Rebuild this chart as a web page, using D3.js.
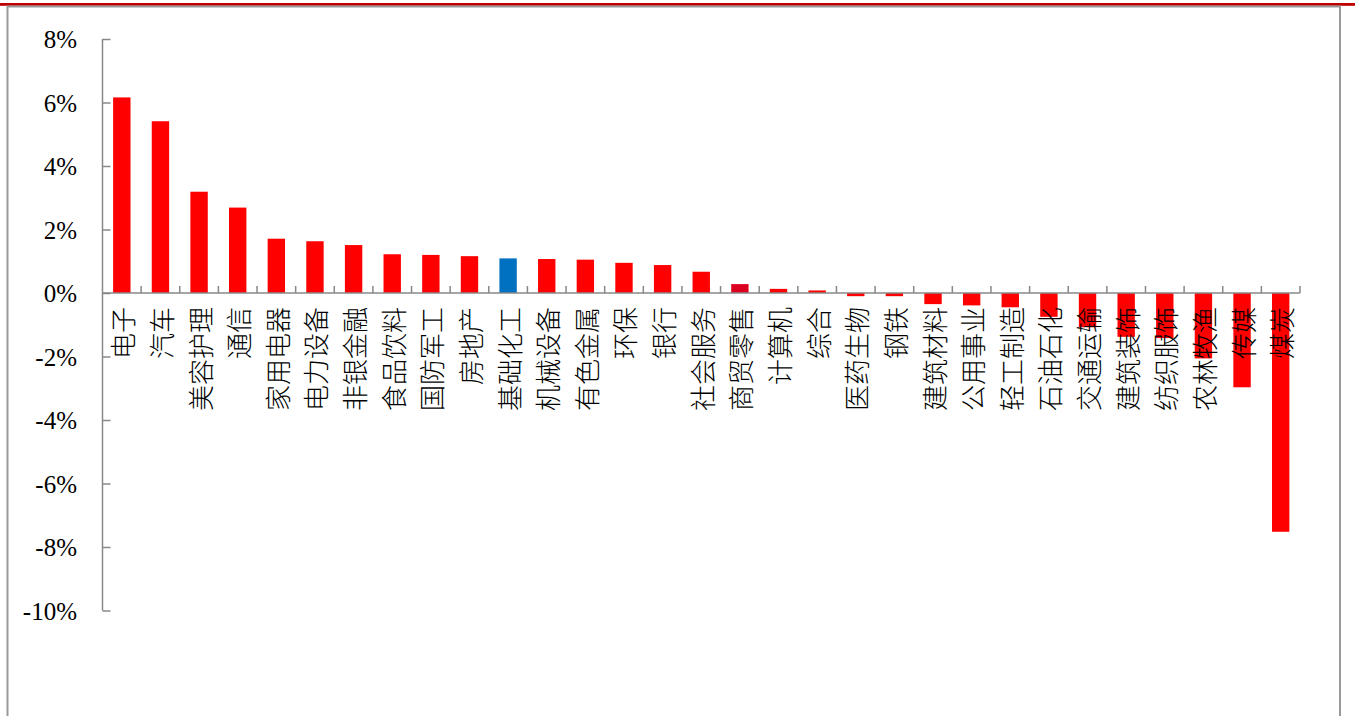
<!DOCTYPE html>
<html>
<head>
<meta charset="utf-8">
<script src="https://cdn.jsdelivr.net/npm/d3@7/dist/d3.min.js"></script>
<style>
  html, body { margin: 0; padding: 0; background: #fff; }
  svg { display: block; }
</style>
</head>
<body>
<svg id="chart" width="1355" height="716"></svg>
<script>
// Industry names (SW level-1), in ranked order
const categories = ["电子", "汽车", "美容护理", "通信", "家用电器", "电力设备", "非银金融", "食品饮料",
  "国防军工", "房地产", "基础化工", "机械设备", "有色金属", "环保", "银行", "社会服务", "商贸零售",
  "计算机", "综合", "医药生物", "钢铁", "建筑材料", "公用事业", "轻工制造", "石油石化", "交通运输",
  "建筑装饰", "纺织服饰", "农林牧渔", "传媒", "煤炭"];

// Weekly change, percent
const values = [6.16, 5.41, 3.19, 2.69, 1.71, 1.63, 1.51, 1.22,
  1.20, 1.16, 1.09, 1.07, 1.05, 0.95, 0.88, 0.67, 0.28,
  0.13, 0.08, -0.10, -0.10, -0.35, -0.39, -0.45, -0.75, -1.08,
  -1.38, -1.42, -2.06, -2.97, -7.52];

// Highlighted industries
const highlight = { "基础化工": "#0070c0", "商贸零售": "#dc0020" };

const yTicks = [8, 6, 4, 2, 0, -2, -4, -6, -8, -10];

const svg = d3.select("#chart");

// Page frame: red rule on top, grey box below it
svg.append("rect").attr("x", 0).attr("y", 3).attr("width", 1355).attr("height", 2.8).attr("fill", "#c00000");
svg.append("path")
  .attr("d", "M7.5,716 V6.5 H1340 V716")
  .attr("fill", "none").attr("stroke", "#999").attr("stroke-width", 2);

const plot = { left: 102.5, right: 1300, top: 39, bottom: 610.5 };

const x = d3.scaleBand().domain(categories).range([plot.left, plot.right]).paddingInner(0.55).paddingOuter(0.275);
const y = d3.scaleLinear().domain([-10, 8]).range([plot.bottom, plot.top]);

// Bars
svg.append("g").selectAll("rect").data(categories).join("rect")
  .attr("x", d => x(d))
  .attr("width", x.bandwidth())
  .attr("y", (d, i) => y(Math.max(0, values[i])))
  .attr("height", (d, i) => Math.abs(y(values[i]) - y(0)))
  .attr("fill", d => highlight[d] || "#ff0000");

// Y axis with inward ticks
const yAxis = d3.axisLeft(y).tickValues(yTicks).tickSize(-8).tickPadding(0)
  .tickFormat(d => d + "%");
const gy = svg.append("g").attr("transform", `translate(${plot.left},0)`).call(yAxis)
  .attr("font-family", "'Liberation Serif', 'Times New Roman', serif")
  .attr("font-size", 25);
gy.select(".domain").attr("stroke", "#888").attr("stroke-width", 1.5)
  .attr("d", `M0,${plot.top}V${plot.bottom}`);
gy.selectAll(".tick line").attr("stroke", "#888").attr("stroke-width", 1.5);
gy.selectAll(".tick text")
  .attr("x", -25.5)
  .attr("dy", "0.35em")
  .attr("fill", "#000");

// Zero line with category separators pointing up
const step = x.step();
const sepPos = d3.range(1, categories.length + 1).map(i => plot.left + i * step);
const gx = svg.append("g");
gx.append("line").attr("x1", plot.left).attr("x2", plot.right)
  .attr("y1", y(0)).attr("y2", y(0)).attr("stroke", "#888").attr("stroke-width", 1.5);
gx.selectAll("line.sep").data(sepPos).join("line").attr("class", "sep")
  .attr("x1", d => d).attr("x2", d => d)
  .attr("y1", y(0)).attr("y2", y(0) - 7)
  .attr("stroke", "#888").attr("stroke-width", 1.5);

// Category labels, rotated, hanging below the zero line
svg.append("g").selectAll("text").data(categories).join("text")
  .attr("transform", d => `translate(${x(d) + x.bandwidth() / 2},${y(0) + 14}) rotate(-90)`)
  .attr("text-anchor", "end")
  .attr("dominant-baseline", "central")
  .attr("fill", "#000")
  .style("font-family", "'Noto Sans CJK SC', sans-serif")
  .style("font-weight", 300)
  .style("font-size", "26px")
  .text(d => d);
</script>
</body>
</html>
